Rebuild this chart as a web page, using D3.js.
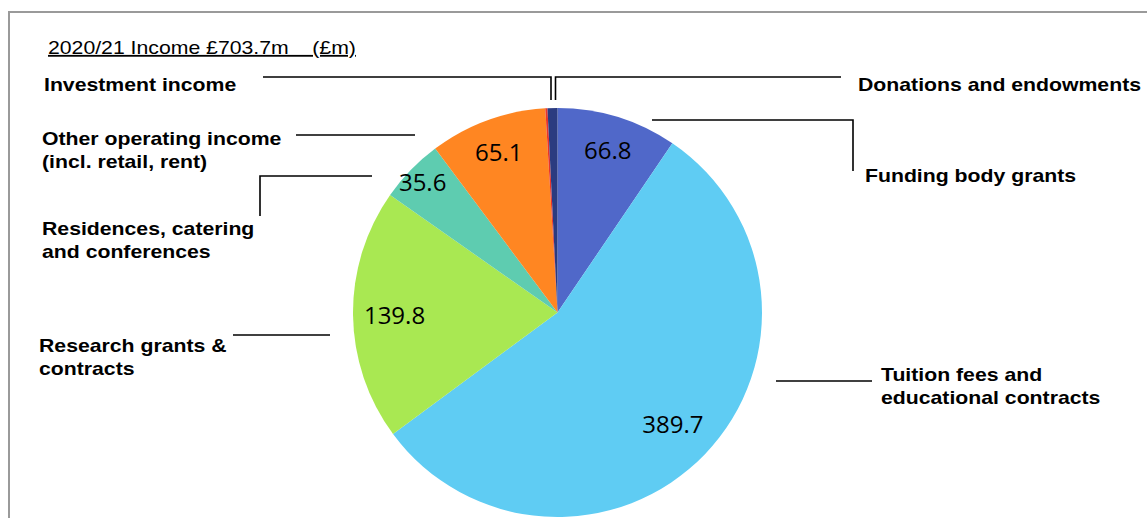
<!DOCTYPE html>
<html>
<head>
<meta charset="utf-8">
<script src="https://cdn.jsdelivr.net/npm/d3@7/dist/d3.min.js"></script>
<style>
  html, body { margin: 0; padding: 0; background: #fff; }
  svg { display: block; }
</style>
</head>
<body>
<svg id="chart" width="1147" height="518"></svg>
<script>
// ---- data ----
const title = "2020/21 Income £703.7m\u00a0\u00a0\u00a0\u00a0(£m)";
const categories = [
  "Funding body grants",
  "Tuition fees and educational contracts",
  "Research grants & contracts",
  "Residences, catering and conferences",
  "Other operating income (incl. retail, rent)",
  "Investment income",
  "Donations and endowments"
];
const values = [66.8, 389.7, 139.8, 35.6, 65.1, 1.2, 5.5];
const valueLabels = ["66.8", "389.7", "139.8", "35.6", "65.1", "", ""];
const categoryLines = [
  ["Funding body grants"],
  ["Tuition fees and", "educational contracts"],
  ["Research grants &", "contracts"],
  ["Residences, catering", "and conferences"],
  ["Other operating income", "(incl. retail, rent)"],
  ["Investment income"],
  ["Donations and endowments"]
];

// ---- layout / style (not data) ----
const colors = ["#5068C9", "#5FCCF3", "#A9E852", "#5ECCB0", "#FF8622", "#E8342A", "#2B3B80"];
const cx = 557.5, cy = 312.5, R = 204.5;
const labelRadius = [171, 160, 163, 188, 171, 0, 0];
const textPos = [
  { x: 865, y: 182 },
  { x: 881, y: 381 },
  { x: 39, y: 352 },
  { x: 42, y: 235 },
  { x: 42, y: 145 },
  { x: 44, y: 91 },
  { x: 858, y: 91 }
];
const leaders = [
  [[652, 120], [853, 120], [853, 171]],
  [[776, 381], [872, 381]],
  [[233, 335], [330, 335]],
  [[372, 176], [260, 176], [260, 216]],
  [[296, 135], [415, 135]],
  [[263, 77], [551, 77], [551, 100]],
  [[841, 77], [555.5, 77], [555.5, 100]]
];
const lineGap = 23;
const stretch = 1.18;

const svg = d3.select("#chart");

// frame
svg.append("rect")
  .attr("x", 9).attr("y", 12)
  .attr("width", 1160).attr("height", 530)
  .attr("fill", "none")
  .attr("stroke", "#9a9a9a")
  .attr("stroke-width", 2);

// title
svg.append("text")
  .attr("transform", `translate(48,54) scale(1.18,1)`)
  .attr("font-family", "Liberation Sans, Arial, sans-serif")
  .attr("font-size", 18)
  .attr("fill", "#000")
  .style("white-space", "pre")
  .style("text-decoration", "underline")
  .text(title);

// pie
const pie = d3.pie().sort(null).value(d => d)
  .startAngle(0).endAngle(2 * Math.PI);
const arcs = pie(values);
const arc = d3.arc().innerRadius(0).outerRadius(R);

const g = svg.append("g").attr("transform", `translate(${cx},${cy})`);
g.selectAll("path.slice")
  .data(arcs)
  .join("path")
  .attr("class", "slice")
  .attr("d", arc)
  .attr("fill", (d, i) => colors[i]);

// value labels
g.selectAll("text.val")
  .data(arcs.filter(d => valueLabels[d.index] !== ""))
  .join("text")
  .attr("class", "val")
  .each(function (d) {
    const a = d3.arc().innerRadius(labelRadius[d.index]).outerRadius(labelRadius[d.index]);
    const [x, y] = a.centroid(d);
    d3.select(this)
      .attr("x", x).attr("y", y)
      .attr("text-anchor", "middle")
      .attr("dominant-baseline", "central")
      .attr("font-family", "Open Sans, sans-serif")
      .attr("font-size", 24)
      .attr("fill", "#000")
      .text(valueLabels[d.index]);
  });

// leader lines
const line = d3.line();
svg.selectAll("path.leader")
  .data(leaders)
  .join("path")
  .attr("class", "leader")
  .attr("d", d => line(d))
  .attr("fill", "none")
  .attr("stroke", "#000")
  .attr("stroke-width", 1.6);

// category labels
categories.forEach((c, i) => {
  const t = svg.append("text")
    .attr("transform", `translate(${textPos[i].x},${textPos[i].y}) scale(${stretch},1)`)
    .attr("font-family", "Liberation Sans, Arial, sans-serif")
    .attr("font-size", 18)
    .attr("font-weight", "bold")
    .attr("fill", "#000");
  categoryLines[i].forEach((ln, j) => {
    t.append("tspan").attr("x", 0).attr("y", j * lineGap).text(ln);
  });
});
</script>
</body>
</html>
